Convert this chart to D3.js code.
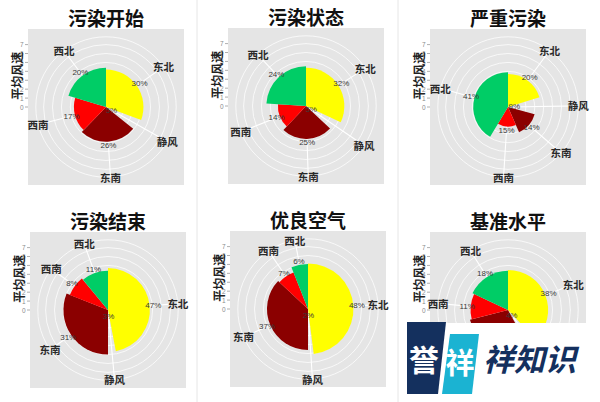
<!DOCTYPE html>
<html>
<head>
<meta charset="utf-8">
<script src="https://cdn.jsdelivr.net/npm/d3@7"></script>
<style>
  html, body { margin: 0; padding: 0; background: #fff; }
  svg { display: block; }
</style>
</head>
<body>
<svg id="chart" width="600" height="402"></svg>
<script>
// ---------- data ----------
const categories = ["东北", "静风", "东南", "西南", "西北"];
const titles = ["污染开始", "污染状态", "严重污染", "污染结束", "优良空气", "基准水平"];
const colors = ["#FFFF00", "#C8C8C8", "#8B0000", "#FF0000", "#00CD66"];
const yTicks = [0, 1, 2, 3, 4, 5, 6, 7];

// share of each direction (%)
const pctStart   = [30, 5, 26, 17, 20];
const pctState   = [32, 5, 25, 14, 24];
const pctSevere  = [20, 9, 14, 15, 41];
const pctEnd     = [47, 3, 31, 8, 11];
const pctGood    = [48, 2, 37, 7, 6];
const pctBase    = [38, 4, 29, 11, 18];

// mean wind speed of each direction (m/s)
const spdStart   = [4.2, 0.3, 3.9, 3.6, 4.4];
const spdState   = [4.3, 0.3, 3.7, 3.15, 4.45];
const spdSevere  = [3.7, 0.3, 3.1, 2.2, 3.9];
const spdEnd     = [4.7, 0.3, 5.0, 4.6, 4.4];
const spdGood    = [5.1, 0.3, 4.6, 4.4, 5.05];
const spdBase    = [4.5, 0.3, 4.4, 4.2, 4.4];

const pctAll = [pctStart, pctState, pctSevere, pctEnd, pctGood, pctBase];
const spdAll = [spdStart, spdState, spdSevere, spdEnd, spdGood, spdBase];

// ---------- layout ----------
const panelOrigins = [[28, 29], [228, 28], [430, 29], [30, 232], [230, 231], [430, 232]];
const panelSize = 156;
const CJK = "'Noto Sans CJK SC', sans-serif";
const wmBox = { x: 400, y: 323, w: 200, h: 79 };

const svg = d3.select("#chart");

// faint separators between the original images
svg.append("line").attr("x1", 197).attr("x2", 197).attr("y1", 0).attr("y2", 402)
  .attr("stroke", "#e6e6e6").attr("stroke-width", 1);
svg.append("line").attr("x1", 398).attr("x2", 398).attr("y1", 0).attr("y2", 402)
  .attr("stroke", "#e6e6e6").attr("stroke-width", 1);

const r = d3.scaleLinear().domain([0, 7]).range([0, 0.4 * panelSize]);
const outerR = 0.45 * panelSize;

titles.forEach((title, i) => {
  const [x0, y0] = panelOrigins[i];
  const cx = x0 + panelSize / 2, cy = y0 + panelSize / 2;
  const pcts = pctAll[i], spds = spdAll[i];
  const rows = categories.map((c, k) => ({ cat: c, pct: pcts[k], spd: spds[k], color: colors[k] }));

  const g = svg.append("g");

  // panel background
  g.append("rect").attr("x", x0).attr("y", y0).attr("width", panelSize).attr("height", panelSize)
    .attr("fill", "#E5E5E5");

  const pie = d3.pie().sort(null).value(d => d.pct);
  const arcsData = pie(rows);

  const center = g.append("g").attr("transform", `translate(${cx},${cy})`);

  // radial grid circles
  const circles = yTicks.filter(t => t > 0).map(t => r(t)).concat([outerR]);
  center.selectAll("circle.grid").data(circles).join("circle")
    .attr("r", d => d).attr("fill", "none").attr("stroke", "#FAFAFA").attr("stroke-width", 0.9);

  // spokes
  center.selectAll("line.spoke").data(arcsData).join("line")
    .attr("x1", 0).attr("y1", 0)
    .attr("x2", d => outerR * Math.sin((d.startAngle + d.endAngle) / 2))
    .attr("y2", d => -outerR * Math.cos((d.startAngle + d.endAngle) / 2))
    .attr("stroke", "#FFFFFF").attr("stroke-width", 1.1);

  // sectors
  const arc = d3.arc().innerRadius(0).outerRadius(d => r(d.data.spd));
  center.selectAll("path.sector").data(arcsData).join("path")
    .attr("d", arc).attr("fill", d => d.data.color);

  // percentage labels
  center.selectAll("text.pct").data(arcsData).join("text")
    .attr("class", "lbl")
    .attr("x", d => r(d.data.spd + 0.4) * Math.sin((d.startAngle + d.endAngle) / 2))
    .attr("y", d => -r(d.data.spd + 0.4) * Math.cos((d.startAngle + d.endAngle) / 2))
    .attr("text-anchor", "middle").attr("dominant-baseline", "central")
    .attr("font-family", "Liberation Sans, Arial, sans-serif").attr("font-size", 8)
    .attr("fill", "#3a3a3a")
    .text(d => d.data.pct + "%");

  // category labels
  center.selectAll("text.cat").data(arcsData).join("text")
    .attr("class", "lbl")
    .attr("x", d => outerR * Math.sin((d.startAngle + d.endAngle) / 2))
    .attr("y", d => -outerR * Math.cos((d.startAngle + d.endAngle) / 2))
    .attr("text-anchor", "middle").attr("dominant-baseline", "central")
    .attr("font-family", CJK).attr("font-weight", "bold").attr("font-size", 10.5)
    .attr("fill", "#2a2a2a")
    .text(d => d.data.cat);

  // radial axis (left side)
  const ax = g.append("g");
  ax.selectAll("line").data(yTicks).join("line")
    .attr("x1", x0 - 3).attr("x2", x0).attr("y1", d => cy - r(d)).attr("y2", d => cy - r(d))
    .attr("stroke", "#9a9a9a").attr("stroke-width", 0.8);
  ax.selectAll("text").data(yTicks).join("text")
    .attr("x", x0 - 4.5).attr("y", d => cy - r(d))
    .attr("text-anchor", "end").attr("dominant-baseline", "central")
    .attr("font-family", "Liberation Sans, Arial, sans-serif").attr("font-size", 6.5)
    .attr("fill", "#8a8a8a")
    .text(d => d);

  // axis title
  g.append("text")
    .attr("transform", `translate(${x0 - 12},${cy - r(3.5)}) rotate(-90)`)
    .attr("text-anchor", "middle").attr("dominant-baseline", "central")
    .attr("font-family", CJK).attr("font-weight", "bold").attr("font-size", 12)
    .attr("fill", "#222")
    .text("平均风速");

  // title
  g.append("text")
    .attr("x", cx).attr("y", y0 - 3)
    .attr("text-anchor", "middle")
    .attr("font-family", CJK).attr("font-weight", "bold").attr("font-size", 19)
    .attr("fill", "#111")
    .text(title);
});

// labels fully hidden by the watermark in the reference are not drawn
svg.selectAll("text.lbl").each(function () {
  const b = this.getBoundingClientRect();
  if (b.top >= wmBox.y && b.left >= wmBox.x) d3.select(this).remove();
});

// ---------- watermark overlay ----------
const wm = svg.append("g");
wm.append("rect").attr("x", wmBox.x).attr("y", wmBox.y).attr("width", wmBox.w).attr("height", wmBox.h).attr("fill", "#FFFFFF");
wm.append("path").attr("d", "M407,322 L446,322 L438,394 L407,394 Z").attr("fill", "#14305E");
wm.append("path").attr("d", "M450,334 L479,334 L472,394 L442,394 Z").attr("fill", "#1BB3D2");
wm.append("text").attr("x", 424).attr("y", 371).attr("text-anchor", "middle")
  .attr("font-family", CJK).attr("font-weight", "bold").attr("font-size", 30).attr("fill", "#FFFFFF")
  .text("誉");
wm.append("text").attr("x", 460).attr("y", 374).attr("text-anchor", "middle")
  .attr("font-family", CJK).attr("font-weight", "bold").attr("font-size", 29).attr("fill", "#FFFFFF")
  .text("祥");
wm.append("text").attr("x", 483).attr("y", 371)
  .attr("font-family", CJK).attr("font-weight", "bold").attr("font-size", 31).attr("fill", "#14305E")
  .attr("font-style", "italic")
  .text("祥知识");
</script>
</body>
</html>
